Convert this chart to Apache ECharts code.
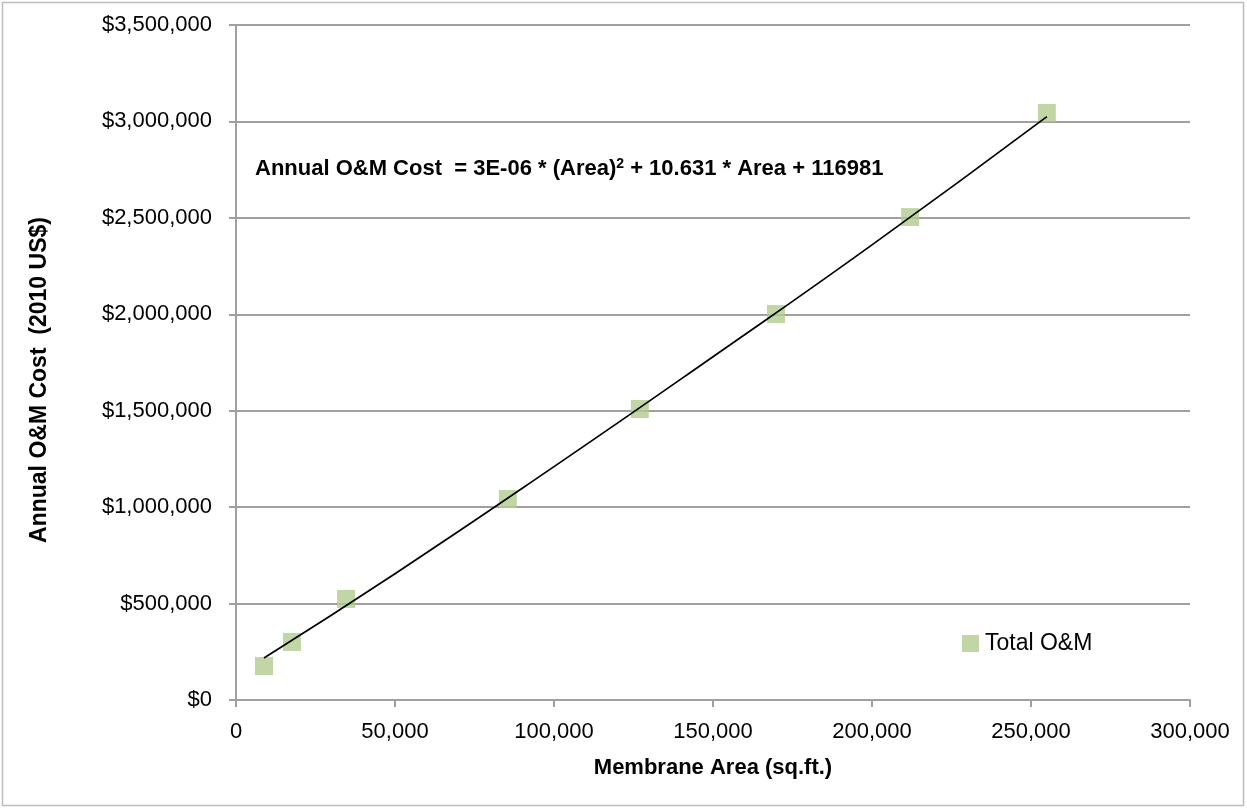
<!DOCTYPE html>
<html>
<head>
<meta charset="utf-8">
<script src="https://cdn.jsdelivr.net/npm/echarts@6/dist/echarts.min.js"></script>
<style>
html,body{margin:0;padding:0;background:#fff;}
#chart{width:1247px;height:809px;}
</style>
</head>
<body>
<div id="chart"></div>
<script>
// Data
const membraneArea = [8800, 17600, 34600, 85500, 127000, 169800, 212000, 255000];
const totalOM = [176000, 301000, 524000, 1042000, 1509000, 2001000, 2504000, 3044000];
const trendArea = [8800, 50000, 100000, 150000, 200000, 255000];
const trendCost = [218000, 655000, 1210000, 1780000, 2360000, 3025000];
const seriesName = 'Total O&M';
const xTitle = 'Membrane Area (sq.ft.)';
const yTitle = 'Annual O&M Cost  (2010 US$)';

const FONT = '"Liberation Sans", Arial, sans-serif';
const chart = echarts.init(document.getElementById('chart'), null, {renderer: 'canvas'});

function fmtNum(v) { return v.toLocaleString('en-US'); }

const option = {
  backgroundColor: '#ffffff',
  animation: false,
  textStyle: {fontFamily: FONT},
  grid: {left: 236, right: 57, top: 25, bottom: 109, containLabel: false},
  legend: {
    show: true,
    left: 962, top: 632, padding: 0,
    itemWidth: 17, itemHeight: 17, itemGap: 6,
    icon: 'rect',
    data: [seriesName],
    textStyle: {fontFamily: FONT, fontSize: 23, color: '#000', padding: [0, 0, 0, 1]}
  },
  xAxis: {
    type: 'value', min: 0, max: 300000, interval: 50000,
    name: xTitle, nameLocation: 'middle', nameGap: 57,
    nameTextStyle: {fontFamily: FONT, fontSize: 22, fontWeight: 'bold', color: '#000'},
    axisLine: {show: true, lineStyle: {color: '#a0a0a0', width: 2}},
    axisTick: {show: true, inside: false, length: 7, lineStyle: {color: '#a0a0a0', width: 2}},
    axisLabel: {fontFamily: FONT, fontSize: 22, color: '#000', margin: 21, formatter: fmtNum},
    splitLine: {show: false}
  },
  yAxis: {
    type: 'value', min: 0, max: 3500000, interval: 500000,
    axisLine: {show: true, lineStyle: {color: '#a0a0a0', width: 2}},
    axisTick: {show: true, inside: false, length: 7, lineStyle: {color: '#a0a0a0', width: 2}},
    axisLabel: {fontFamily: FONT, fontSize: 22, color: '#000', margin: 24,
      formatter: v => '$' + fmtNum(v)},
    splitLine: {show: true, lineStyle: {color: '#a0a0a0', width: 2}}
  },
  series: [
    {
      name: 'Trend',
      type: 'line',
      data: trendArea.map((x, i) => [x, trendCost[i]]),
      smooth: true,
      showSymbol: false,
      symbol: 'none',
      lineStyle: {color: '#000', width: 1.7},
      z: 3,
      silent: true
    },
    {
      name: seriesName,
      type: 'scatter',
      data: membraneArea.map((x, i) => [x, totalOM[i]]),
      symbol: 'rect',
      symbolSize: 18,
      itemStyle: {color: '#b3cc8e'},
      z: 2
    }
  ],
  graphic: [
    {
      type: 'rect',
      shape: {x: 2.5, y: 2.5, width: 1241, height: 803},
      style: {fill: 'none', stroke: '#bdbdbd', lineWidth: 1.5},
      silent: true
    },
    {
      type: 'text',
      x: 40, y: 380,
      rotation: Math.PI / 2,
      style: {
        text: yTitle,
        fontFamily: FONT, fontSize: 23, fontWeight: 'bold', fill: '#000',
        align: 'center', verticalAlign: 'middle'
      },
      silent: true
    },
    {
      type: 'text',
      left: 255, top: 157,
      style: {
        text: '{b|Annual O&M Cost  = 3E-06 * (Area)}{s|2}{b| + 10.631 * Area + 116981}',
        rich: {
          b: {fontFamily: FONT, fontSize: 22, fontWeight: 'bold', fill: '#000', color: '#000', verticalAlign: 'bottom'},
          s: {fontFamily: FONT, fontSize: 14, fontWeight: 'bold', fill: '#000', color: '#000', verticalAlign: 'top', padding: [0, 0, 9, 0]}
        }
      },
      z: 10
    }
  ]
};
chart.setOption(option);
</script>
</body>
</html>
